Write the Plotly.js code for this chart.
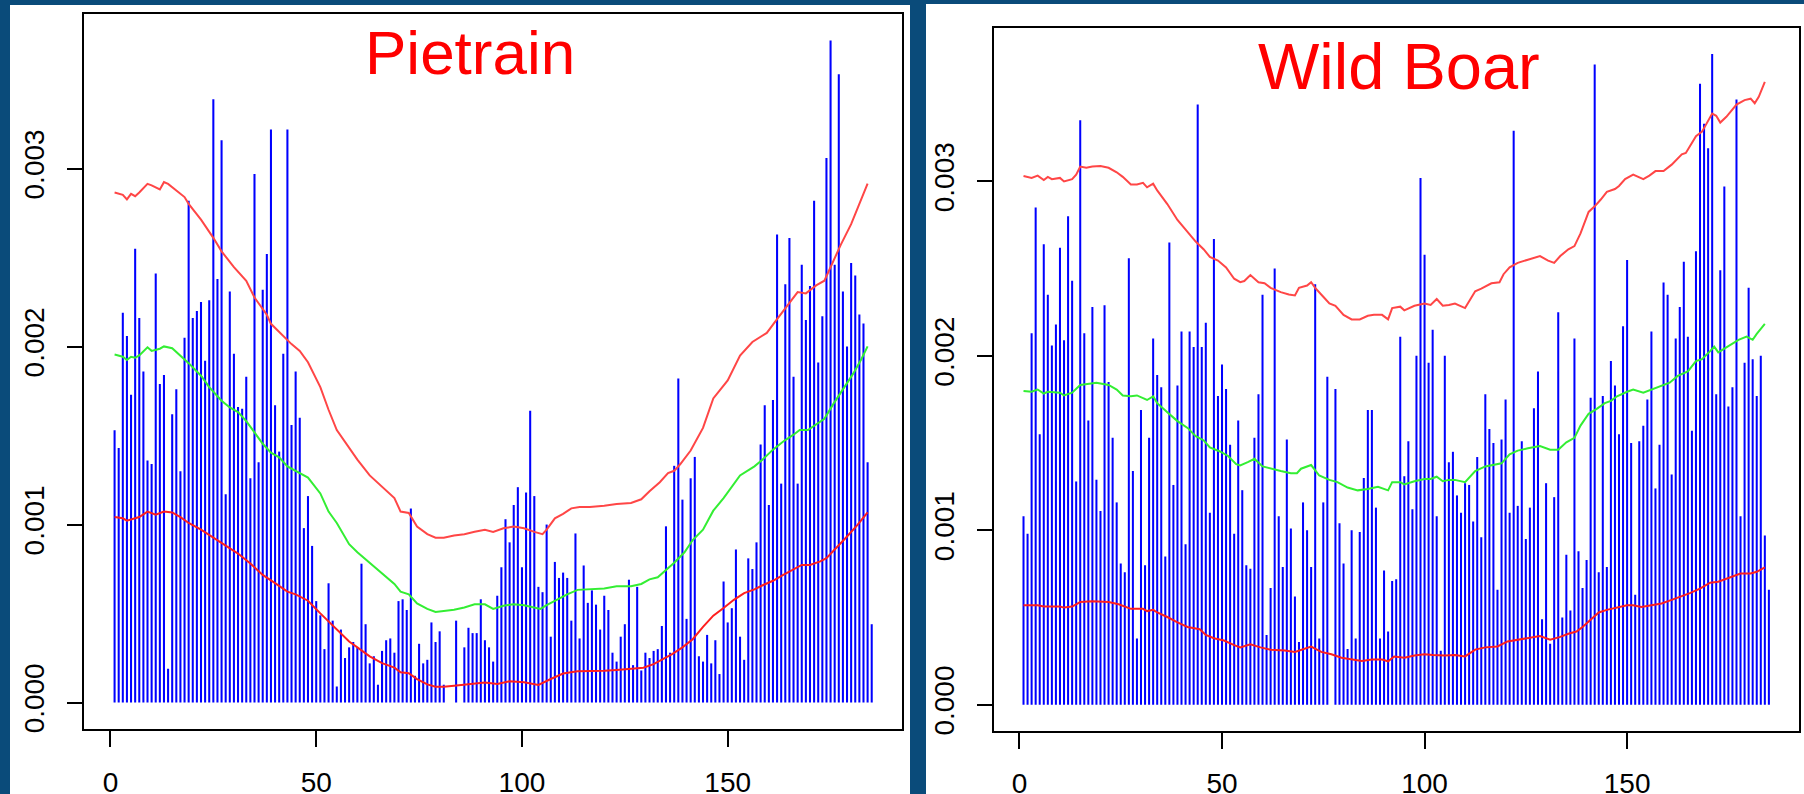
<!DOCTYPE html>
<html>
<head>
<meta charset="utf-8">
<script src="https://cdn.plot.ly/plotly-3.0.1.min.js"></script>
<style>html,body{margin:0;padding:0;background:#0a4b7a;}#chart{width:1804px;height:794px;}</style>
</head>
<body>
<div id="chart"></div>
<script>
// Values in units of 0.001
const pietrainBars = [1.53,1.43,2.19,2.06,1.73,2.55,2.16,1.86,1.36,1.34,2.41,1.79,1.84,0.19,1.62,1.76,1.30,2.05,2.82,2.16,
2.20,2.25,1.92,2.26,3.39,2.38,3.16,1.17,2.31,1.96,1.66,1.65,1.83,1.26,2.97,1.35,2.32,2.52,3.22,1.67,
1.41,1.96,3.22,1.56,1.86,1.60,0.98,1.16,0.88,0.57,0.49,0.30,0.67,0.46,0.09,0.41,0.25,0.31,0.34,0.31,
0.78,0.44,0.22,0.26,0.10,0.29,0.35,0.36,0.28,0.57,0.58,0.52,1.09,0.15,0.33,0.22,0.24,0.45,0.34,0.40,
0.10,0,0,0.46,0,0.31,0.42,0.39,0.39,0.58,0.35,0.31,0.23,0.60,0.76,1.03,0.90,1.11,1.21,0.76,
1.18,1.64,1.16,0.65,0.62,1.00,0.37,0.79,0.70,0.73,0.70,0.46,0.95,0.36,0.77,0.56,0.63,0.55,0.41,0.60,
0.52,0.28,0.23,0.37,0.44,0.69,0.21,0.65,0.18,0.28,0.25,0.29,0.30,0.43,0.99,0.28,1.33,1.82,1.14,0.47,
1.26,1.38,0.26,0.23,0.38,0.22,0.35,0.16,0.68,0.45,0.53,0.86,0.37,0.24,0.81,0.75,0.90,1.45,1.67,1.11,
1.70,2.63,1.23,2.35,2.61,1.83,1.23,2.46,2.15,2.34,2.82,1.91,2.17,3.06,3.72,2.46,3.53,2.31,2.00,2.47,
2.40,2.18,2.13,1.35,0.44];

const wildBoarBars = [1.08,0.98,2.13,2.85,1.55,2.64,2.35,2.06,2.18,2.62,2.09,2.80,2.43,1.28,3.35,2.13,1.63,2.28,1.29,1.11,
2.29,1.85,1.53,1.16,0.81,0.76,2.56,1.34,0.38,1.69,0.80,1.53,2.10,1.89,1.82,0.85,2.65,1.26,1.83,2.14,
0.92,2.14,2.05,3.44,2.05,2.19,1.10,2.67,1.77,1.95,1.81,1.49,0.98,1.63,1.23,0.80,0.78,1.53,1.78,2.35,
0.40,0.67,2.50,1.08,0.79,1.52,1.01,0.62,0.36,1.16,1.00,0.79,2.41,0.38,1.16,1.88,0,1.81,1.04,0.81,
0.32,1.00,0.38,0.99,1.30,1.69,1.69,1.13,0.38,0.77,0.42,0.71,0.72,2.11,1.31,1.51,1.12,2.00,3.02,2.58,
1.96,2.15,1.08,0.31,2.00,1.39,1.45,1.20,1.10,1.27,1.26,1.05,1.42,0.96,1.78,1.58,1.50,0.66,1.52,1.75,
1.10,3.29,1.14,1.51,0.95,1.13,1.70,1.91,0.49,1.27,0.35,1.19,2.25,0.50,0.86,0.54,2.10,0.88,0.67,0.83,
1.76,3.67,0.76,1.77,0.79,1.97,1.83,1.55,2.17,2.55,1.50,0.63,1.51,1.60,1.75,2.14,1.24,1.49,2.42,2.35,
1.32,2.10,2.28,2.54,2.11,1.57,2.60,3.56,3.33,3.19,3.73,1.78,2.49,2.97,1.71,1.82,3.47,1.08,1.96,2.39,
1.98,1.77,2.00,0.97,0.66];

// Smoothed lines (x position, value in units of 0.001)
const pUx = [1,3,4,5,6,7,9,10,12,13,14,16,18,19,22,25,27,30,33,35,38,39,43,44,46,48,51,53,55,58,60,63,66,69,70.5,72.5,74.5,77,79,81,83.5,86,88.5,91,93,95.5,98,100.5,103,105,106,108,110,112,114,116.5,120,123,126.5,129,131,133.5,135.5,137,138.5,141,144,146.5,150,153,156,159.5,162,165,167,169,171.5,173.5,175,177.5,180,182,184];
const pUy = [2.866,2.853,2.827,2.858,2.845,2.866,2.914,2.906,2.883,2.924,2.914,2.878,2.840,2.802,2.713,2.611,2.535,2.446,2.370,2.276,2.179,2.128,2.039,2.014,1.976,1.912,1.772,1.645,1.531,1.429,1.365,1.276,1.213,1.149,1.073,1.065,0.989,0.946,0.926,0.926,0.938,0.946,0.959,0.971,0.959,0.979,0.989,0.979,0.959,0.946,0.971,1.035,1.060,1.091,1.098,1.098,1.106,1.116,1.121,1.142,1.187,1.238,1.289,1.302,1.340,1.416,1.543,1.709,1.810,1.950,2.026,2.077,2.154,2.243,2.306,2.299,2.344,2.370,2.446,2.573,2.688,2.802,2.916];

const pGx = [1,3,4,5,6,7,9,10,12,13,15,17,19,22,24,27,29,31,33,35,37,39,41,43,45,48,51,53,55,58,60,63,66,69,70.5,72.5,74.5,77,79,81,83.5,86,88.5,91,93,95.5,98,100.5,103,104.5,106,108.5,111,113.5,116.5,120,123,126.5,129,131,133,135,137,139.5,141.5,144,146.5,149,151.5,153,156.5,158.5,161,163.5,166,167.5,169.5,171.5,173.5,175.5,178,180.5,182.5,184];
const pGy = [1.955,1.943,1.925,1.943,1.937,1.950,1.996,1.976,1.988,2.001,1.991,1.950,1.907,1.836,1.772,1.696,1.658,1.632,1.581,1.518,1.454,1.404,1.378,1.327,1.300,1.264,1.175,1.073,1.009,0.890,0.844,0.786,0.725,0.666,0.623,0.608,0.557,0.526,0.509,0.514,0.521,0.534,0.552,0.552,0.526,0.544,0.552,0.547,0.534,0.526,0.547,0.577,0.608,0.633,0.638,0.641,0.653,0.653,0.666,0.692,0.704,0.742,0.785,0.844,0.913,0.971,1.078,1.149,1.226,1.276,1.327,1.365,1.421,1.467,1.505,1.531,1.531,1.561,1.594,1.671,1.759,1.848,1.930,2.001];

const pLx = [1,3,4,6,7,9,11,13,15,17,19,22,25,28,31,34,37,40,43,45,48,51,53,55,58,60,63,66,69,70.5,72.5,74.5,77,79,81,83.5,86,88.5,91,94,97,100.5,104,107,110,113.5,116.5,120,123,126.5,129.5,132,134.5,136.5,139,141.5,144,146.5,149,151.5,154,156.5,158.5,161,163.5,166,168,170,172.5,174,176.5,179,181.5,184];
const pLy = [1.042,1.035,1.022,1.035,1.042,1.073,1.055,1.073,1.068,1.042,1.009,0.971,0.926,0.877,0.837,0.781,0.717,0.671,0.623,0.608,0.572,0.501,0.455,0.412,0.343,0.310,0.259,0.221,0.196,0.170,0.165,0.132,0.102,0.089,0.089,0.094,0.099,0.104,0.112,0.104,0.120,0.114,0.099,0.132,0.163,0.175,0.175,0.178,0.183,0.191,0.196,0.216,0.247,0.272,0.310,0.356,0.425,0.488,0.531,0.577,0.615,0.636,0.659,0.684,0.717,0.748,0.773,0.773,0.793,0.811,0.870,0.933,0.997,1.068];

const wUx = [1,3,4.5,6,7,8,10,11,13,14,15,16.5,18,20,22,24,25.5,27.5,29,30.5,31.5,33,34,36.5,39,41.5,43.5,45.5,47,49,51,53,54.5,55.5,57,59,60.5,62,64.5,66.5,68,69,71,72,73,75,76.5,78,80,82,84,86,87.5,89.5,91,92,94,95,97.5,100,101.5,103,104.5,106,107.5,110,111,112.5,114,116.5,118.5,119.5,121,123,125.5,128.5,130.5,132,133.5,135.5,137,138.5,140.5,142,143.5,145,147,148,149.5,151.5,154,155.5,157,159,161,163.5,164.5,165.5,167,168.5,170,171,172,173,174.5,176,177,179,180.5,181.5,182.5,184];
const wUy = [3.031,3.020,3.033,3.008,3.026,3.013,3.020,3.000,3.013,3.039,3.085,3.078,3.085,3.088,3.078,3.052,3.026,2.982,2.982,2.992,2.966,2.987,2.948,2.870,2.779,2.707,2.655,2.610,2.567,2.546,2.507,2.442,2.422,2.429,2.463,2.422,2.416,2.390,2.365,2.352,2.346,2.390,2.403,2.422,2.390,2.339,2.300,2.287,2.235,2.209,2.209,2.230,2.235,2.235,2.209,2.274,2.282,2.261,2.287,2.300,2.292,2.326,2.287,2.292,2.300,2.274,2.313,2.370,2.385,2.416,2.422,2.468,2.507,2.533,2.551,2.572,2.546,2.533,2.572,2.611,2.629,2.702,2.825,2.857,2.896,2.940,2.956,2.974,3.013,3.039,3.013,3.033,3.059,3.059,3.096,3.155,3.163,3.199,3.259,3.285,3.345,3.389,3.376,3.337,3.370,3.415,3.440,3.466,3.474,3.448,3.485,3.570];

const wGx = [1,3,4.5,6,7,10,11,13,15,17,19,22,24,25.5,27.5,29,31.5,33,34,36.5,39,41.5,43.5,45.5,47,49.5,51.5,53.5,54.5,56.5,58,60,62,64.5,67,68.5,69.5,72,74,76.5,78.5,81,83.5,86,88.5,91,92,94,95,97.5,100,101.5,103,104.5,106,107.5,110,112.5,115,117,119,121,123,125.5,128.5,131,133,135,137,138.5,140.5,142.5,144.5,146,147.5,150,151.5,154,156,158.5,160.5,162.5,165,167,168.5,170.5,171.5,172.5,174.5,176,177.5,179.5,181,182,184];
const wGy = [1.799,1.794,1.807,1.784,1.794,1.789,1.773,1.789,1.833,1.838,1.846,1.833,1.807,1.773,1.768,1.773,1.747,1.768,1.729,1.677,1.626,1.587,1.540,1.515,1.475,1.452,1.426,1.379,1.372,1.392,1.410,1.366,1.353,1.340,1.327,1.327,1.353,1.374,1.314,1.289,1.276,1.245,1.229,1.237,1.250,1.229,1.276,1.276,1.263,1.281,1.294,1.294,1.307,1.281,1.289,1.289,1.276,1.340,1.366,1.374,1.384,1.436,1.457,1.470,1.483,1.462,1.462,1.504,1.530,1.600,1.668,1.696,1.729,1.742,1.768,1.794,1.807,1.789,1.807,1.825,1.846,1.885,1.911,1.970,1.981,2.027,2.053,2.020,2.048,2.074,2.092,2.110,2.092,2.126,2.183];

const wLx = [1,4.5,6,10,11,13,15,18,22,24.5,27.5,30.5,31.5,33,34,36.5,39,41.5,44.5,46,48,50.5,53,54.5,57,59.5,62,65.5,68,70.5,72,74.5,77,79.5,82,84.5,87,89.5,91,92.5,95,97.5,100,102,105,107.5,110,112.5,115,118,120.5,123,125.5,128.5,131,133.5,135.5,137.5,139,141,143,145,147.5,150,151.5,153.5,156,158.5,161,163.5,165.5,168,170.5,172.5,174,176,178,180.5,182,184];
const wLy = [0.570,0.570,0.563,0.563,0.557,0.563,0.589,0.594,0.589,0.576,0.550,0.550,0.537,0.544,0.529,0.503,0.472,0.446,0.433,0.400,0.381,0.368,0.342,0.329,0.347,0.329,0.316,0.311,0.303,0.321,0.334,0.303,0.290,0.270,0.259,0.251,0.259,0.259,0.249,0.277,0.270,0.283,0.290,0.285,0.283,0.285,0.277,0.316,0.329,0.334,0.363,0.373,0.381,0.394,0.373,0.389,0.407,0.420,0.446,0.490,0.529,0.544,0.555,0.570,0.570,0.560,0.570,0.581,0.601,0.622,0.640,0.666,0.700,0.705,0.718,0.736,0.752,0.752,0.762,0.788];

const titles = ["Pietrain", "Wild Boar"];
const xTicks = [0, 50, 100, 150];
const yTicks = [0, 0.001, 0.002, 0.003];

const U = 0.001;
const sc = a => a.map(v => v * U);
const pos = a => a.map((_, i) => i + 1);

const FONT = "Liberation Sans, Arial, Helvetica, sans-serif";
const BLUE = "#0000ff", RED_UP = "#ff4646", RED_LO = "#ff1e1e", GREEN = "#33ee33";

function traces(bars, ux, uy, gx, gy, lx, ly, xa, ya) {
  return [
    {type: "bar", x: pos(bars), y: sc(bars), width: 0.5, marker: {color: BLUE, line: {width: 0}}, xaxis: xa, yaxis: ya, hoverinfo: "skip"},
    {type: "scatter", mode: "lines", x: ux, y: sc(uy), line: {color: RED_UP, width: 2}, xaxis: xa, yaxis: ya, hoverinfo: "skip"},
    {type: "scatter", mode: "lines", x: gx, y: sc(gy), line: {color: GREEN, width: 2}, xaxis: xa, yaxis: ya, hoverinfo: "skip"},
    {type: "scatter", mode: "lines", x: lx, y: sc(ly), line: {color: RED_LO, width: 2}, xaxis: xa, yaxis: ya, hoverinfo: "skip"}
  ];
}

const data = [
  ...traces(pietrainBars, pUx, pUy, pGx, pGy, pLx, pLy, "x", "y"),
  ...traces(wildBoarBars, wUx, wUy, wGx, wGy, wLx, wLy, "x2", "y2")
];

function xr(n) { const d = (n - 1) * 0.04; return [1 - d, n + d]; }
function yr(bars) { const m = Math.max(...bars) * U; return [-0.04 * m, 1.04 * m]; }

const W = 1804, H = 794;
const axCommon = {
  showgrid: false, zeroline: false, showline: true, mirror: true,
  linecolor: "#000", linewidth: 2, ticks: "outside", tickwidth: 2, tickcolor: "#000",
  tickfont: {family: FONT, size: 28, color: "#000"}
};
const xAx = (dom, anchor, n) => Object.assign({}, axCommon, {
  domain: dom, anchor: anchor, range: xr(n), tickmode: "array", tickvals: xTicks,
  ticktext: xTicks.map(String), ticklen: 16, ticklabelstandoff: 11
});
const yAx = (dom, anchor, bars) => Object.assign({}, axCommon, {
  domain: dom, anchor: anchor, range: yr(bars), tickmode: "array", tickvals: yTicks,
  ticktext: yTicks.map(v => v.toFixed(3)), tickangle: -90, ticklen: 15, ticklabelstandoff: 12
});

const layout = {
  width: W, height: H,
  margin: {l: 0, r: 0, t: 0, b: 0, pad: 0},
  paper_bgcolor: "#0a4b7a", plot_bgcolor: "#ffffff",
  showlegend: false,
  xaxis: xAx([84.3 / W, 902 / W], "y", pietrainBars.length),
  yaxis: yAx([(H - 729) / H, (H - 14) / H], "x", pietrainBars),
  xaxis2: xAx([993.7 / W, 1798.7 / W], "y2", wildBoarBars.length),
  yaxis2: yAx([(H - 730.8) / H, (H - 28) / H], "x2", wildBoarBars),
  shapes: [
    {type: "rect", xref: "paper", yref: "paper", x0: 10 / W, x1: 910 / W, y0: 0, y1: (H - 5) / H, fillcolor: "#ffffff", line: {width: 0}, layer: "below"},
    {type: "rect", xref: "paper", yref: "paper", x0: 926 / W, x1: 1, y0: 0, y1: (H - 4) / H, fillcolor: "#ffffff", line: {width: 0}, layer: "below"}
  ],
  annotations: [
    {text: titles[0], xref: "paper", yref: "paper", x: 469.5 / W, y: (H - 53) / H, xanchor: "center", yanchor: "middle", showarrow: false, font: {family: FONT, size: 62, color: "#ff0000"}},
    {text: titles[1], xref: "paper", yref: "paper", x: 1399 / W, y: (H - 66.4) / H, xanchor: "center", yanchor: "middle", showarrow: false, font: {family: FONT, size: 65, color: "#ff0000"}}
  ]
};

Plotly.newPlot("chart", data, layout, {displayModeBar: false, staticPlot: true});
</script>
</body>
</html>
